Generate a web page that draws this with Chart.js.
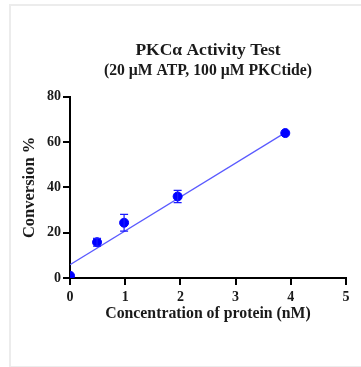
<!DOCTYPE html>
<html>
<head>
<meta charset="utf-8">
<script src="https://cdn.jsdelivr.net/npm/chart.js@4.4.1/dist/chart.umd.min.js"></script>
<style>
  html, body { margin: 0; padding: 0; background: #fff; }
  #frame {
    position: absolute; left: 9px; top: 4px; width: 360px; height: 360px;
    border-left: 2px solid #ececec; border-top: 2px solid #ececec; border-bottom: 2px solid #ececec;
  }
  #wrap { position: absolute; left: 0; top: 0; width: 361px; height: 367px; }
</style>
</head>
<body>
<div id="frame"></div>
<div id="wrap"><canvas id="pkc_chart" width="361" height="367"></canvas></div>
<script>
// measured points (nM, % conversion, +/- error)
const concentrations = [0, 0.49, 0.98, 1.95, 3.9];
const conversion = [1.0, 15.8, 24.4, 36.0, 64.0];
const errors = [0, 1.7, 3.7, 2.7, 0];

// linear fit end points
const fitX = [0, 3.9];
const fitY = [5.9, 64.2];

const xTicks = [0, 1, 2, 3, 4, 5];
const yTicks = [0, 20, 40, 60, 80];

const serif = "'Liberation Serif', 'Times New Roman', serif";

// error bars drawn through the chart scales
const errorBars = {
    id: 'errorBars',
    afterDatasetsDraw(chart) {
        const ctx = chart.ctx;
        const xs = chart.scales.x, ys = chart.scales.y;
        ctx.save();
        ctx.strokeStyle = '#1a1aff';
        ctx.lineWidth = 1.2;
        concentrations.forEach((c, i) => {
            if (!errors[i]) return;
            const px = xs.getPixelForValue(c);
            const top = ys.getPixelForValue(conversion[i] + errors[i]);
            const bot = ys.getPixelForValue(conversion[i] - errors[i]);
            ctx.beginPath();
            ctx.moveTo(px, top); ctx.lineTo(px, bot);
            ctx.moveTo(px - 4, top); ctx.lineTo(px + 4, top);
            ctx.moveTo(px - 4, bot); ctx.lineTo(px + 4, bot);
            ctx.stroke();
        });
        ctx.restore();
    }
};

const ctx = document.getElementById('pkc_chart').getContext('2d');
new Chart(ctx, {
    type: 'scatter',
    data: {
        datasets: [{
            label: 'fit',
            type: 'line',
            data: fitX.map((x, i) => ({ x: x, y: fitY[i] })),
            borderColor: '#5a5aff',
            borderWidth: 1.2,
            pointRadius: 0,
            fill: false,
            order: 2
        }, {
            label: 'PKCα',
            data: concentrations.map((x, i) => ({ x: x, y: conversion[i] })),
            backgroundColor: '#0000ff',
            borderColor: '#0000ff',
            pointRadius: 4.5,
            order: 1
        }]
    },
    options: {
        responsive: false,
        animation: false,
        layout: { padding: { left: 10, right: 15, top: 0, bottom: 0 } },
        plugins: {
            legend: { display: false },
            tooltip: { enabled: false },
            title: {
                display: true,
                fullSize: false,
                text: 'PKCα Activity Test',
                color: '#1a1a1a',
                font: { family: serif, size: 17.5, weight: 'bold' },
                padding: { top: 40, bottom: 1 }
            },
            subtitle: {
                display: true,
                fullSize: false,
                text: '(20 µM ATP, 100 µM PKCtide)',
                color: '#1a1a1a',
                font: { family: serif, size: 15.7, weight: 'bold' },
                padding: { top: 0, bottom: 16 }
            }
        },
        scales: {
            x: {
                type: 'linear',
                min: 0, max: 5,
                afterFit(scale) { scale.height = 89; },
                afterBuildTicks(scale) { scale.ticks = xTicks.map(v => ({ value: v })); },
                border: { color: '#000', width: 2 },
                grid: { drawOnChartArea: false, color: '#000', lineWidth: 2, tickLength: 7 },
                ticks: { color: '#1a1a1a', padding: 4, font: { family: serif, size: 14, weight: 'bold' } },
                title: {
                    display: true,
                    text: 'Concentration of protein (nM)',
                    color: '#1a1a1a',
                    font: { family: serif, size: 15.8, weight: 'bold' },
                    padding: { top: 0, bottom: 43.5 }
                }
            },
            y: {
                type: 'linear',
                min: 0, max: 80,
                afterFit(scale) { scale.width = 60; },
                afterBuildTicks(scale) { scale.ticks = yTicks.map(v => ({ value: v })); },
                border: { color: '#000', width: 2 },
                grid: { drawOnChartArea: false, color: '#000', lineWidth: 2, tickLength: 7 },
                ticks: { color: '#1a1a1a', padding: 2, font: { family: serif, size: 14, weight: 'bold' } },
                title: {
                    display: true,
                    text: 'Conversion %',
                    color: '#1a1a1a',
                    font: { family: serif, size: 16.5, weight: 'bold' },
                    padding: { top: 10, bottom: 0 }
                }
            }
        }
    },
    plugins: [errorBars]
});
</script>
</body>
</html>
